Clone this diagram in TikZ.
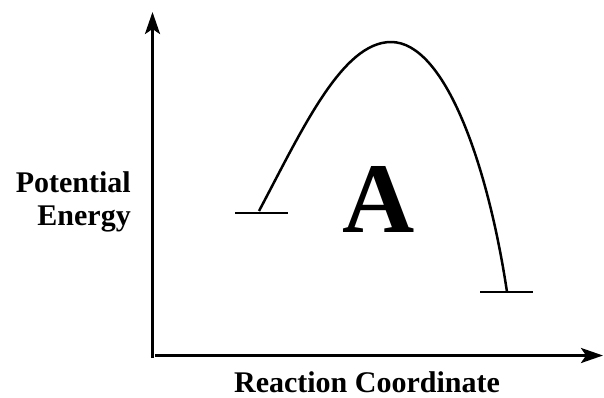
\documentclass[tikz,border=0pt]{standalone}
\usepackage{fontspec}
\setmainfont{Liberation Serif}
\usetikzlibrary{arrows.meta}
\begin{document}
\begin{tikzpicture}[x=1pt,y=-1pt,
  axis/.style={line width=3pt,-{Stealth[length=22pt,width=15pt,inset=5pt]}},
  level/.style={line width=2.6pt},
  barrier/.style={line width=2.5pt},
  lab/.style={font=\bfseries\fontsize{30}{33}\selectfont,inner sep=0pt}]
\useasboundingbox (0,0) rectangle (604,397);
\coordinate (origin) at (152.5,358);
\coordinate (ytop) at (152.5,12);
\coordinate (xorig) at (155,355.5);
\coordinate (xend) at (603,355.5);
\draw[axis] (origin) -- (ytop);
\draw[axis] (xorig) -- (xend);
\coordinate (l1) at (235,213);
\coordinate (l2) at (288,213);
\coordinate (r1) at (480,292);
\coordinate (r2) at (533,292);
\draw[level] (l1) -- (l2);
\draw[level] (r1) -- (r2);
\coordinate (cs) at (259,211);
\coordinate (peak) at (391,42);
\coordinate (ce) at (507,292);
\draw[barrier] (cs) .. controls (302,130) and (342,42) .. (peak)
  .. controls (445,42) and (488,165) .. (ce);
\node[font=\bfseries\fontsize{100}{100}\selectfont,inner sep=0pt,anchor=base] (A) at (379,232) {A};
\node[lab,align=right,anchor=base east] (pe) at (131,225) {Potential\\Energy};
\node[lab,anchor=base] (rc) at (367,392) {Reaction Coordinate};
\end{tikzpicture}
\end{document}
